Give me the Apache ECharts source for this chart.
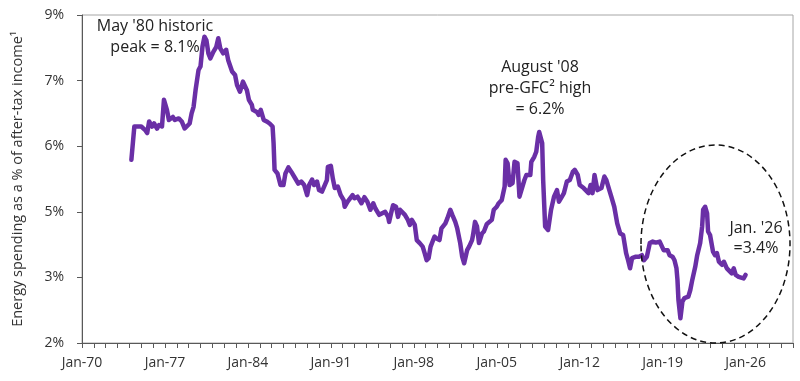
<!DOCTYPE html>
<html><head><meta charset="utf-8">
<script src="https://cdn.jsdelivr.net/npm/echarts@6/dist/echarts.min.js"></script>
<style>html,body{margin:0;padding:0;background:#fff}#c{width:800px;height:381px}</style>
</head><body><div id="c"></div>
<script>
const dates = ['1974-03','1974-06','1974-08','1975-01','1975-05','1975-07','1975-09','1975-12','1976-02','1976-05','1976-07','1976-10','1976-12','1977-03','1977-05','1977-09','1977-11','1978-03','1978-06','1978-09','1978-11','1979-02','1979-04','1979-06','1979-08','1979-11','1980-01','1980-03','1980-05','1980-07','1980-09','1980-11','1981-02','1981-05','1981-07','1981-09','1981-12','1982-03','1982-05','1982-09','1982-12','1983-02','1983-05','1983-08','1983-10','1983-12','1984-02','1984-05','1984-06','1984-10','1984-12','1985-02','1985-05','1985-08','1985-11','1986-02','1986-03','1986-04','1986-07','1986-10','1987-01','1987-03','1987-06','1987-09','1988-01','1988-04','1988-07','1988-10','1989-01','1989-03','1989-06','1989-08','1989-11','1990-01','1990-04','1990-06','1990-09','1990-10','1991-01','1991-03','1991-05','1991-08','1991-11','1992-02','1992-03','1992-06','1992-08','1992-11','1993-01','1993-04','1993-08','1993-11','1994-02','1994-05','1994-08','1994-10','1995-02','1995-05','1995-08','1995-11','1995-12','1996-02','1996-04','1996-07','1996-09','1996-11','1997-01','1997-04','1997-07','1997-09','1997-11','1998-02','1998-04','1998-07','1998-10','1998-12','1999-02','1999-04','1999-06','1999-10','1999-12','2000-03','2000-05','2000-09','2000-11','2001-02','2001-04','2001-07','2001-09','2001-12','2002-02','2002-04','2002-07','2002-09','2002-12','2003-01','2003-03','2003-05','2003-07','2003-10','2003-12','2004-03','2004-05','2004-08','2004-10','2005-01','2005-03','2005-06','2005-09','2005-10','2005-12','2006-02','2006-05','2006-07','2006-10','2006-12','2007-02','2007-05','2007-07','2007-11','2007-12','2008-03','2008-05','2008-07','2008-08','2008-11','2008-12','2009-02','2009-05','2009-08','2009-11','2010-02','2010-04','2010-07','2010-09','2010-12','2011-03','2011-06','2011-08','2011-11','2012-01','2012-05','2012-07','2012-10','2012-12','2013-02','2013-04','2013-07','2013-11','2014-02','2014-04','2014-07','2014-09','2014-12','2015-03','2015-06','2015-09','2015-12','2016-02','2016-04','2016-06','2016-10','2017-01','2017-04','2017-06','2017-09','2017-12','2018-03','2018-06','2018-10','2018-12','2019-02','2019-03','2019-06','2019-08','2019-11','2020-01','2020-03','2020-04','2020-05','2020-07','2020-09','2020-11','2021-03','2021-05','2021-07','2021-10','2021-12','2022-03','2022-05','2022-06','2022-08','2022-10','2022-11','2023-01','2023-04','2023-06','2023-08','2023-10','2024-01','2024-03','2024-06','2024-08','2024-11','2025-01','2025-03','2025-06','2025-08','2025-11','2026-01'];
const energyShare = [5.63,6.29,6.32,6.29,6.22,6.16,6.39,6.29,6.35,6.25,6.32,6.29,6.82,6.62,6.42,6.48,6.42,6.45,6.39,6.25,6.22,6.35,6.55,6.68,7.01,7.41,7.48,7.87,8.07,8.00,7.74,7.64,7.77,7.87,8.04,7.84,7.74,7.81,7.61,7.38,7.31,7.11,6.98,7.18,7.21,7.01,6.82,6.72,6.62,6.58,6.52,6.62,6.42,6.39,6.35,6.29,5.96,5.43,5.36,5.13,5.13,5.36,5.48,5.39,5.26,5.16,5.20,5.13,4.93,5.13,5.24,5.13,5.20,5.03,5.00,4.97,5.23,5.49,5.51,5.26,5.07,5.10,4.93,4.83,4.70,4.80,4.77,4.93,4.87,4.90,4.77,4.89,4.80,4.64,4.77,4.67,4.54,4.57,4.60,4.50,4.40,4.57,4.73,4.70,4.50,4.64,4.65,4.54,4.44,4.34,4.44,4.34,4.04,3.98,3.91,3.78,3.64,3.68,3.91,4.11,4.07,4.04,4.27,4.37,4.47,4.64,4.54,4.40,4.27,3.98,3.71,3.58,3.84,3.91,4.04,4.14,4.40,4.31,3.98,4.17,4.21,4.36,4.38,4.44,4.64,4.70,4.77,4.83,5.10,5.63,5.56,5.13,5.17,5.59,5.56,4.90,4.90,5.23,5.33,5.33,5.59,5.69,5.79,6.09,6.18,5.96,5.23,4.31,4.24,4.64,4.90,5.03,4.80,4.90,4.97,5.20,5.23,5.39,5.43,5.33,5.13,5.07,5.07,4.97,5.13,4.97,5.33,5.03,5.07,5.30,5.23,5.03,4.90,4.70,4.37,4.17,4.14,3.78,3.64,3.48,3.68,3.71,3.71,3.74,3.64,3.71,3.98,4.01,3.99,4.01,3.98,3.84,3.81,3.84,3.74,3.71,3.64,3.48,3.25,2.85,2.49,2.82,2.89,2.92,3.05,3.25,3.51,3.74,3.98,4.31,4.64,4.70,4.57,4.21,4.14,3.81,3.74,3.78,3.61,3.55,3.61,3.48,3.45,3.38,3.48,3.35,3.31,3.28,3.28,3.35,3.40];
const xTickLabels = ['Jan-70','Jan-77','Jan-84','Jan-91','Jan-98','Jan-05','Jan-12','Jan-19','Jan-26'];
const yTickLabels = ['2%','3%','5%','6%','7%','9%'];
const Y_MIN = 2.0, Y_MAX = 8.5;

const seriesData = dates.map((d, i) => {
  const [y, m] = d.split('-').map(Number);
  return [y + (m - 1) / 12, energyShare[i]];
});

const FONT = 'Open Sans';
const chart = echarts.init(document.getElementById('c'), null, {renderer: 'canvas'});
chart.setOption({
  animation: false,
  grid: {left: 82, right: 7, top: 15, bottom: 38, show: true, borderColor: '#a6a6a6', borderWidth: 1},
  xAxis: {
    type: 'value', min: 1970, max: 2030, interval: 1,
    axisLine: {show: true, lineStyle: {color: '#595959', width: 1}},
    axisTick: {show: true, length: 5, lineStyle: {color: '#595959'}},
    splitLine: {show: false},
    axisLabel: {
      margin: 13, color: '#333', fontFamily: FONT, fontSize: 14,
      formatter: v => { const k = Math.round(v - 1970); return (k % 7 === 0 && k / 7 < xTickLabels.length) ? xTickLabels[k / 7] : ''; }
    }
  },
  yAxis: [
    {type: 'value', min: Y_MIN, max: Y_MAX, show: false, splitLine: {show: false}},
    {
      type: 'value', min: 0, max: yTickLabels.length - 1, interval: 1, position: 'left',
      name: 'Energy spending as a % of after-tax income\u00b9', nameLocation: 'middle', nameGap: 57,
      nameTextStyle: {color: '#333', fontFamily: FONT, fontSize: 14.5},
      axisLine: {show: true, lineStyle: {color: '#595959'}},
      axisTick: {show: true, length: 5, lineStyle: {color: '#595959'}},
      splitLine: {show: false},
      axisLabel: {margin: 18, color: '#333', fontFamily: FONT, fontSize: 14, formatter: v => yTickLabels[v]}
    }
  ],
  series: [{
    type: 'line', yAxisIndex: 0, data: seriesData, showSymbol: false, symbol: 'none',
    lineStyle: {color: '#6a2fa6', width: 4.5, join: 'round', cap: 'round'}
  }],
  graphic: [
    {type: 'ellipse', shape: {cx: 715.5, cy: 244, rx: 74.5, ry: 99}, style: {fill: 'none', stroke: '#111', lineWidth: 1.5, lineDash: [6, 4]}, z: 10},
    {type: 'text', x: 155, y: 37, style: {text: "May '80 historic\npeak = 8.1%", font: '16px ' + FONT, fill: '#222', align: 'center', verticalAlign: 'middle', lineHeight: 21}, z: 11},
    {type: 'text', x: 540, y: 88, style: {text: "August '08\npre-GFC\u00b2 high\n= 6.2%", font: '16px ' + FONT, fill: '#222', align: 'center', verticalAlign: 'middle', lineHeight: 21}, z: 11},
    {type: 'text', x: 756, y: 238, style: {text: "Jan. '26\n=3.4%", font: '16px ' + FONT, fill: '#222', align: 'center', verticalAlign: 'middle', lineHeight: 20}, z: 11}
  ]
});
</script></body></html>
